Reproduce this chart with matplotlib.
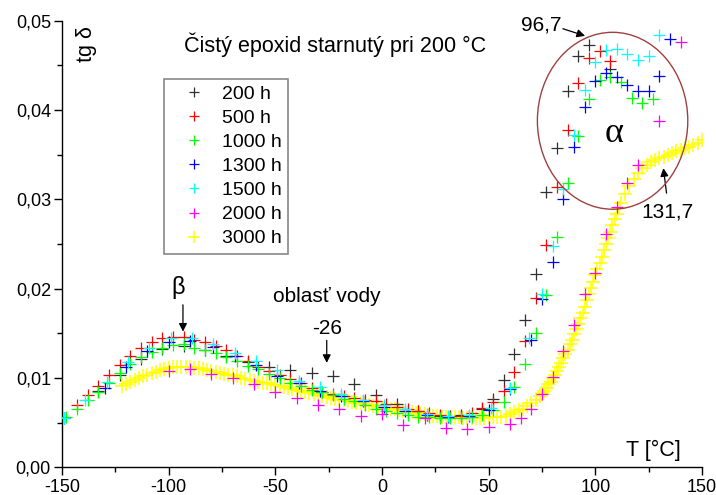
import matplotlib
matplotlib.use("Agg")
import matplotlib.pyplot as plt
from matplotlib.patches import Ellipse

plt.rcParams['font.family'] = ['Liberation Sans', 'DejaVu Sans']

# ---------------- data ----------------
labels = ["200 h", "500 h", "1000 h", "1300 h", "1500 h", "2000 h", "3000 h"]
colors = ["#303030", "#FF0000", "#00FF00", "#0000FF", "#00FFFF", "#FF00FF", "#FFFF00"]

t_200 = [-133, -123, -113, -103, -93, -83, -73, -63, -53, -43, -33, -23, -13, -3, 7, 17, 27, 37,
         47, 52, 57, 62, 67, 72, 77, 82, 87, 92, 97, 107]
v_200 = [0.0086, 0.0104, 0.0121, 0.0133, 0.0136, 0.0131, 0.0125, 0.0118, 0.0112, 0.0109, 0.0106,
         0.0102, 0.0093, 0.0081, 0.0071, 0.0063, 0.0058, 0.0059, 0.0066, 0.0077, 0.0098, 0.0127,
         0.0165, 0.0217, 0.0308, 0.0358, 0.0421, 0.0460, 0.0473, 0.0446]

t_500 = [-143, -138, -133, -128, -123, -118, -113, -108, -103, -98, -93, -88, -83, -78, -73, -68,
         -63, -58, -53, -48, -43, -38, -33, -28, -23, -18, -13, -8, -3, 2, 7, 12, 17, 22, 27, 32,
         37, 42, 47, 52, 57, 62, 67, 72, 77, 82, 87, 92, 97, 102, 107]
v_500 = [0.0070, 0.0081, 0.0091, 0.0103, 0.0115, 0.0125, 0.0134, 0.0140, 0.0145, 0.0146, 0.0146,
         0.0143, 0.0140, 0.0136, 0.0131, 0.0125, 0.0119, 0.0113, 0.0108, 0.0103, 0.0099, 0.0094,
         0.0089, 0.0085, 0.0082, 0.0080, 0.0078, 0.0076, 0.0074, 0.0071, 0.0068, 0.0066, 0.0063,
         0.0061, 0.0059, 0.0058, 0.0058, 0.0061, 0.0067, 0.0073, 0.0086, 0.0107, 0.0142, 0.0190,
         0.0249, 0.0314, 0.0378, 0.0430, 0.0458, 0.0466, 0.0455]

t_1000 = [-148, -143, -138, -133, -128, -123, -118, -113, -108, -103, -98, -93, -88, -83, -78,
          -73, -68, -63, -58, -53, -48, -43, -38, -33, -28, -23, -18, -13, -8, -3, 2, 7, 12, 17,
          22, 27, 32, 37, 42, 47, 52, 57, 62, 67, 72, 77, 82, 87, 92, 97, 102, 107, 112, 117,
          122, 127]
v_1000 = [0.0056, 0.0066, 0.0076, 0.0085, 0.0095, 0.0106, 0.0116, 0.0124, 0.0129, 0.0134, 0.0137,
          0.0138, 0.0134, 0.0131, 0.0128, 0.0124, 0.0119, 0.0114, 0.0110, 0.0105, 0.0100, 0.0095,
          0.0091, 0.0087, 0.0084, 0.0081, 0.0077, 0.0074, 0.0070, 0.0066, 0.0063, 0.0061, 0.0059,
          0.0056, 0.0057, 0.0055, 0.0055, 0.0055, 0.0056, 0.0059, 0.0064, 0.0073, 0.0090, 0.0116,
          0.0151, 0.0193, 0.0258, 0.0318, 0.0371, 0.0412, 0.0434, 0.0437, 0.0431, 0.0414, 0.0408,
          0.0412]

t_1300 = [-149, -130, -120, -110, -100, -90, -79, -69, -59, -49, -39, -29, -19, -9, 1, 11, 21,
          31, 41, 50, 60, 70, 75, 80, 85, 90, 95, 100, 105, 110, 115, 120, 125, 130, 135]
v_1300 = [0.0055, 0.0089, 0.0112, 0.0130, 0.0140, 0.0142, 0.0135, 0.0125, 0.0115, 0.0102, 0.0094,
          0.0086, 0.0080, 0.0074, 0.0068, 0.0063, 0.0059, 0.0057, 0.0058, 0.0064, 0.0088, 0.0143,
          0.0188, 0.0230, 0.0300, 0.0359, 0.0403, 0.0432, 0.0442, 0.0437, 0.0428, 0.0421, 0.0421,
          0.0438, 0.0479]

t_1500 = [-149, -139, -129, -119, -109, -99, -89, -79, -69, -59, -49, -39, -29, -19, -9, 1, 11,
          21, 31, 41, 51, 60, 69, 75, 80, 85, 90, 95, 100, 105, 110, 115, 120, 125, 130]
v_1500 = [0.0055, 0.0076, 0.0096, 0.0118, 0.0134, 0.0145, 0.0145, 0.0138, 0.0128, 0.0119, 0.0109,
          0.0097, 0.0090, 0.0082, 0.0076, 0.0070, 0.0065, 0.0060, 0.0058, 0.0059, 0.0067, 0.0089,
          0.0145, 0.0194, 0.0248, 0.0312, 0.0372, 0.0422, 0.0454, 0.0467, 0.0468, 0.0463, 0.0456,
          0.0460, 0.0484]

t_2000 = [-100, -90, -80, -70, -60, -50, -40, -30, -20, -10, 0, 10, 20, 30, 40, 50, 60, 65, 70,
          75, 80, 85, 90, 95, 100, 105, 110, 115, 120, 130, 140]
v_2000 = [0.0108, 0.0110, 0.0105, 0.0100, 0.0093, 0.0084, 0.0078, 0.0070, 0.0066, 0.0058, 0.0060,
          0.0048, 0.0055, 0.0044, 0.0043, 0.0045, 0.0049, 0.0055, 0.0066, 0.0082, 0.0101, 0.0130,
          0.0160, 0.0194, 0.0218, 0.0261, 0.0292, 0.0318, 0.0338, 0.0388, 0.0476]

t_3000 = [-122, -120, -118, -116, -114, -112, -110, -108, -106, -104, -102, -100, -98, -96, -94,
          -92, -90, -88, -86, -84, -82, -80, -78, -76, -74, -72, -70, -68, -66, -64, -62, -60,
          -58, -56, -54, -52, -50, -48, -46, -44, -42, -40, -38, -36, -34, -32, -30, -28, -26,
          -24, -22, -20, -18, -16, -14, -12, -10, -8, -6, -4, -2, 0, 2, 4, 6, 8, 10, 12, 14, 16,
          18, 20, 22, 24, 26, 28, 30, 32, 34, 36, 38, 40, 42, 44, 46, 48, 50, 52, 54, 56, 58, 60,
          62, 64, 66, 68, 70, 72, 74, 75, 76, 77, 78, 79, 80, 81, 82, 83, 84, 85, 86, 87, 88, 89,
          90, 91, 92, 93, 94, 95, 96, 97, 98, 99, 100, 101, 102, 103, 104, 105, 106, 107, 108,
          109, 110, 111, 112, 114, 116, 118, 120, 122, 124, 126, 128, 130, 132, 134, 136, 138,
          140, 142, 144, 146, 148, 150]
v_3000 = [0.0091, 0.0093, 0.0096, 0.0098, 0.0100, 0.0102, 0.0104, 0.0106, 0.0107, 0.0109, 0.0110,
          0.0111, 0.0112, 0.0112, 0.0112, 0.0112, 0.0112, 0.0111, 0.0111, 0.0110, 0.0109, 0.0108,
          0.0107, 0.0106, 0.0105, 0.0104, 0.0103, 0.0102, 0.0100, 0.0099, 0.0098, 0.0097, 0.0096,
          0.0095, 0.0094, 0.0093, 0.0092, 0.0091, 0.0090, 0.0089, 0.0088, 0.0087, 0.0086, 0.0085,
          0.0083, 0.0082, 0.0081, 0.0080, 0.0079, 0.0078, 0.0077, 0.0076, 0.0075, 0.0074, 0.0073,
          0.0072, 0.0072, 0.0071, 0.0070, 0.0069, 0.0068, 0.0067, 0.0066, 0.0065, 0.0065, 0.0064,
          0.0063, 0.0062, 0.0062, 0.0061, 0.0060, 0.0060, 0.0059, 0.0058, 0.0058, 0.0057, 0.0057,
          0.0056, 0.0056, 0.0056, 0.0055, 0.0055, 0.0055, 0.0055, 0.0055, 0.0055, 0.0056, 0.0056,
          0.0057, 0.0057, 0.0058, 0.0060, 0.0062, 0.0064, 0.0066, 0.0069, 0.0072, 0.0076, 0.0080,
          0.0083, 0.0086, 0.0089, 0.0093, 0.0096, 0.0100, 0.0104, 0.0108, 0.0113, 0.0117, 0.0122,
          0.0127, 0.0132, 0.0138, 0.0143, 0.0149, 0.0155, 0.0161, 0.0167, 0.0173, 0.0180, 0.0187,
          0.0194, 0.0201, 0.0208, 0.0215, 0.0222, 0.0229, 0.0236, 0.0243, 0.0250, 0.0257, 0.0264,
          0.0271, 0.0278, 0.0284, 0.0290, 0.0296, 0.0306, 0.0315, 0.0323, 0.0330, 0.0335, 0.0339,
          0.0342, 0.0344, 0.0346, 0.0348, 0.0350, 0.0352, 0.0354, 0.0355, 0.0357, 0.0359, 0.0361,
          0.0363, 0.0366]

x_ticks = [-150, -100, -50, 0, 50, 100, 150]
x_ticklabels = ["-150", "-100", "-50", "0", "50", "100", "150"]
y_ticks = [0.00, 0.01, 0.02, 0.03, 0.04, 0.05]
y_ticklabels = ["0,00", "0,01", "0,02", "0,03", "0,04", "0,05"]

# ---------------- figure ----------------
fig = plt.figure(figsize=(7.16, 4.95), dpi=100)
ax = fig.add_axes([0.0866, 0.0556, 0.8938, 0.9026])

series = [(t_200, v_200), (t_500, v_500), (t_1000, v_1000), (t_1300, v_1300),
          (t_1500, v_1500), (t_2000, v_2000), (t_3000, v_3000)]
zorders = [4, 4, 4, 4, 4, 5, 2]
msizes = [8, 8, 8, 8, 8, 8, 9.5]
mews = [0.9, 0.9, 0.9, 0.9, 0.9, 0.9, 1.1]
handles = []
for (t, v), lab, col, z, ms, mw in zip(series, labels, colors, zorders, msizes, mews):
    h, = ax.plot(t, v, linestyle='none', marker='+', markersize=ms, markeredgewidth=mw,
                 color=col, label=lab, zorder=z)
    handles.append(h)

ax.set_xlim(-150, 150)
ax.set_ylim(0, 0.05)
ax.set_xticks(x_ticks)
ax.set_xticklabels(x_ticklabels)
ax.set_yticks(y_ticks)
ax.set_yticklabels(y_ticklabels)
ax.set_xticks([-125, -75, -25, 25, 75, 125], minor=True)
ax.set_yticks([0.005, 0.015, 0.025, 0.035, 0.045], minor=True)
ax.tick_params(which='major', direction='out', length=6, width=1.0, labelsize=13, pad=2)
ax.tick_params(which='minor', direction='out', length=3.5, width=1.0)
for s in ['top', 'right']:
    ax.spines[s].set_visible(False)
for s in ['left', 'bottom']:
    ax.spines[s].set_linewidth(1.0)
ax.patch.set_alpha(0)

leg = ax.legend(handles=handles, loc='upper left', bbox_to_anchor=(0.1600, 0.8700),
                borderaxespad=0, fontsize=14, frameon=True, fancybox=False,
                edgecolor='#888888', framealpha=1, borderpad=0.35, handlelength=2.3,
                handletextpad=0.3, labelspacing=0.33, numpoints=1, markerscale=0.9)
leg.get_frame().set_linewidth(1.2)

# ellipse
ax.add_patch(Ellipse((108.1, 0.0388), width=70.5, height=0.0198, fill=False,
                     edgecolor='#A04040', linewidth=1.0, zorder=6))

# texts
ax.text(-21.8, 0.0473, "Čistý epoxid starnutý pri 200 °C", fontsize=15.5, ha='center', va='center')
ax.text(-138.3, 0.0474, "tg δ", fontsize=15.5, rotation=90, ha='center', va='center')
ax.text(127, 0.0019, "T [°C]", fontsize=15.5, ha='center', va='center')
ax.text(108.6, 0.0374, "α", fontsize=26, ha='center', va='center',
        family=['Liberation Serif', 'DejaVu Serif'])
ax.text(-95.6, 0.0201, "β", fontsize=17, ha='center', va='center')
ax.text(-26, 0.0191, "oblasť vody", fontsize=15, ha='center', va='center')

arrow = dict(arrowstyle='-|>', color='black', lw=0.9, mutation_scale=12, shrinkA=0, shrinkB=0)
ax.annotate("", xy=(-93.3, 0.0152), xytext=(-93.3, 0.0182), arrowprops=arrow)
ax.annotate("-26", xy=(-25.9, 0.0117), xytext=(-25.9, 0.0156), fontsize=15,
            ha='center', va='center', arrowprops=arrow)
ax.annotate("", xy=(95.2, 0.0483), xytext=(84.8, 0.0491), arrowprops=arrow)
ax.text(74.5, 0.0495, "96,7", fontsize=15, ha='center', va='center')
ax.annotate("", xy=(131.9, 0.0335), xytext=(133.4, 0.0307), arrowprops=arrow)
ax.text(133.8, 0.0286, "131,7", fontsize=15, ha='center', va='center')

fig.savefig("out.png", dpi=100)
